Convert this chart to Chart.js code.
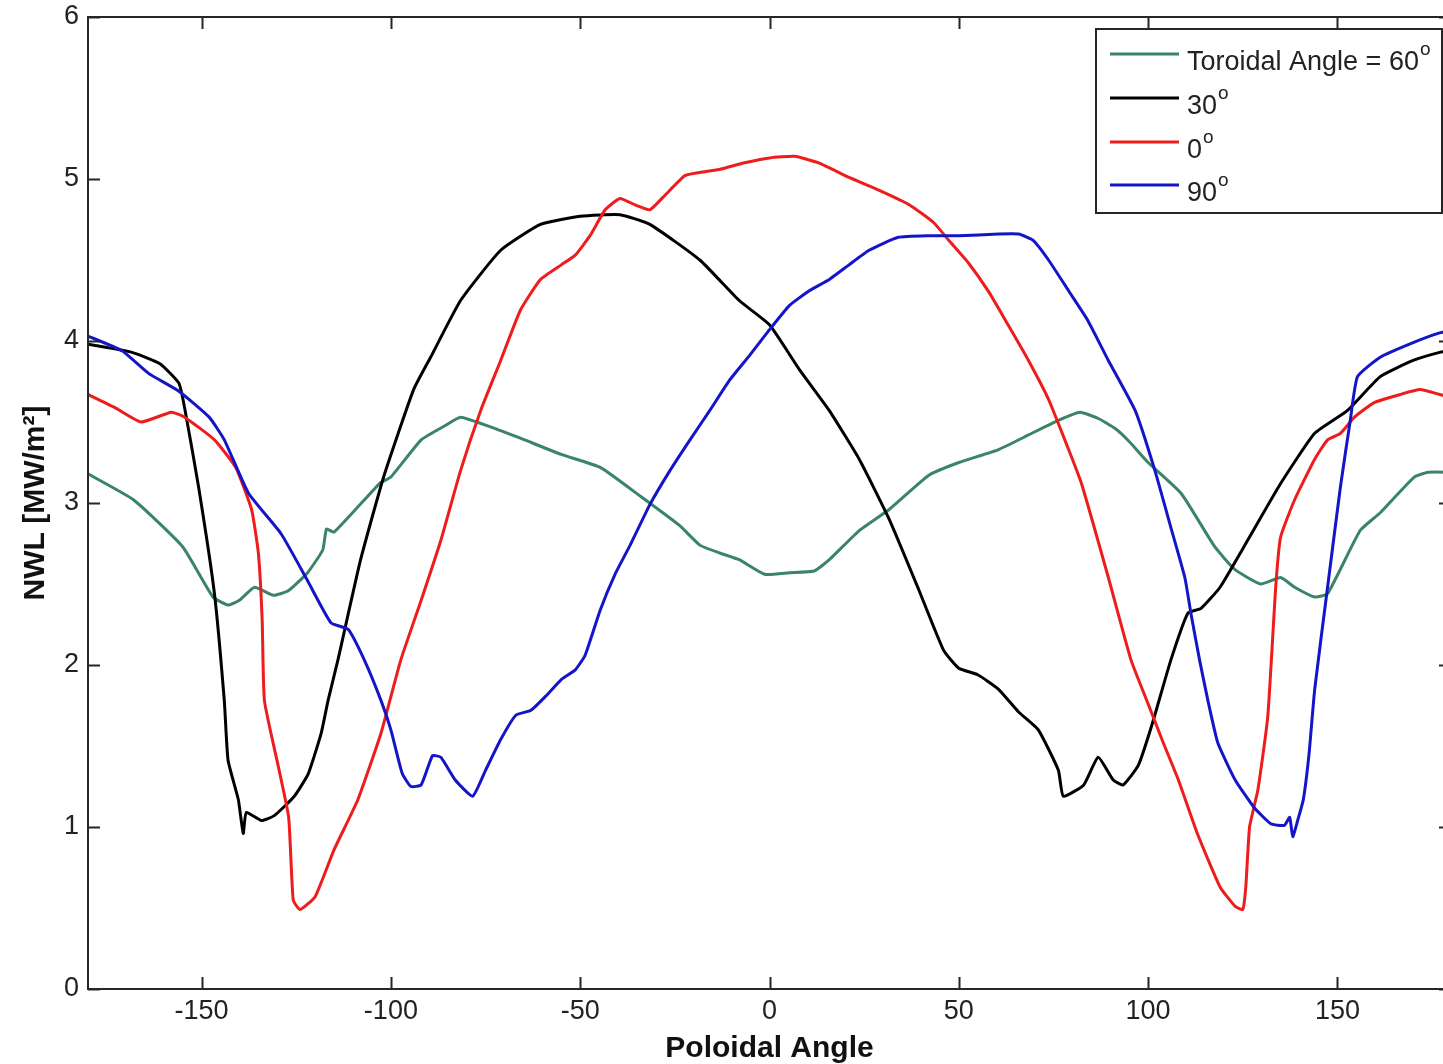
<!DOCTYPE html>
<html lang="en">
<head>
<meta charset="UTF-8">
<title>NWL vs Poloidal Angle</title>
<script src="https://cdn.jsdelivr.net/npm/chart.js@4.4.1/dist/chart.umd.min.js"></script>
<style>
   html, body { margin: 0; padding: 0; background: #fff; overflow: hidden; }
   #wrap { width: 1465px; height: 1064px; }
</style>
</head>
<body>
<div id="wrap"><canvas id="myChart" width="1465" height="1064"></canvas></div>
<script>
   // values
   const angle60 = [-180, -168, -155, -147, -143, -140, -136, -131, -127, -122, -118, -117, -115, -103, -100, -92, -85.5, -81.6, -73.7, -65.8, -55, -44.7, -34, -23.7, -18.4, -13, -8, -1.3, 5.3, 11.8, 15.8, 23.7, 31.6, 42, 50, 60.5, 68.4, 76.3, 82, 87, 91.3, 95, 100, 108.7, 117.6, 122.9, 129.7, 135, 138.7, 144, 147.4, 156, 161.3, 170.3, 174, 180];
   const nwl60 = [3.18, 3.02, 2.73, 2.42, 2.37, 2.40, 2.48, 2.43, 2.46, 2.57, 2.71, 2.84, 2.82, 3.12, 3.16, 3.39, 3.48, 3.53, 3.47, 3.40, 3.30, 3.22, 3.04, 2.86, 2.74, 2.69, 2.65, 2.56, 2.57, 2.58, 2.65, 2.83, 2.96, 3.17, 3.25, 3.33, 3.42, 3.51, 3.56, 3.52, 3.46, 3.38, 3.25, 3.06, 2.73, 2.59, 2.50, 2.54, 2.48, 2.42, 2.44, 2.83, 2.94, 3.16, 3.19, 3.19];

   const angle30 = [-180, -168.4, -161, -156, -154.5, -150.8, -146.6, -144, -143, -140.3, -139, -138.2, -134.2, -130.8, -125.5, -121.8, -118.4, -116.6, -114, -108, -101.8, -94, -89.5, -81.6, -71, -60.5, -50, -39.5, -31.6, -18.4, -8, 0, 8, 15.8, 23.7, 31.6, 39.5, 46, 50, 55, 60.5, 65.8, 71, 76.3, 77.6, 83, 86.8, 90.8, 93.4, 97.4, 101, 106, 110.5, 114, 119, 126.3, 135, 144, 152.6, 161.3, 170, 177, 180];
   const nwl30 = [3.98, 3.93, 3.86, 3.74, 3.59, 3.10, 2.44, 1.78, 1.41, 1.17, 0.96, 1.09, 1.04, 1.07, 1.19, 1.33, 1.58, 1.78, 2.03, 2.65, 3.17, 3.70, 3.90, 4.25, 4.56, 4.72, 4.77, 4.78, 4.72, 4.50, 4.25, 4.10, 3.82, 3.57, 3.27, 2.90, 2.46, 2.09, 1.98, 1.94, 1.85, 1.71, 1.60, 1.35, 1.19, 1.26, 1.43, 1.29, 1.26, 1.38, 1.63, 2.03, 2.32, 2.35, 2.48, 2.77, 3.12, 3.43, 3.57, 3.78, 3.88, 3.93, 3.94];

   const angle0 = [-180, -173, -166, -158, -154.5, -146.6, -141, -136.8, -135, -134, -133.4, -129.7, -127, -125.8, -124, -120, -115, -108.7, -102.6, -97.4, -92, -86.8, -81.6, -76.3, -71, -65.8, -60.5, -55, -51.3, -47.4, -43.4, -39.5, -35.5, -31.6, -27.6, -22.4, -18.4, -13, -6.6, 0, 6.6, 13, 21, 29, 37, 43.4, 47.4, 52.6, 58, 63, 68.4, 73.7, 79, 82.4, 89.5, 95.5, 100, 104, 108, 113, 119, 123, 125, 125.8, 126.8, 129, 131.6, 133.7, 135, 138.7, 144, 147.4, 150.8, 154.5, 159.7, 166.6, 171.8, 177, 180];
   const nwl0 = [3.67, 3.59, 3.50, 3.56, 3.53, 3.39, 3.22, 2.96, 2.69, 2.28, 1.78, 1.37, 1.06, 0.55, 0.49, 0.57, 0.86, 1.17, 1.58, 2.03, 2.40, 2.77, 3.20, 3.57, 3.88, 4.19, 4.38, 4.47, 4.53, 4.65, 4.81, 4.88, 4.84, 4.81, 4.90, 5.02, 5.04, 5.06, 5.10, 5.13, 5.14, 5.10, 5.01, 4.93, 4.84, 4.73, 4.62, 4.48, 4.30, 4.10, 3.88, 3.64, 3.33, 3.12, 2.54, 2.03, 1.76, 1.52, 1.29, 0.96, 0.63, 0.51, 0.49, 0.63, 1.00, 1.23, 1.68, 2.48, 2.79, 3.02, 3.27, 3.39, 3.43, 3.53, 3.62, 3.67, 3.70, 3.67, 3.65];

   const angle90 = [-180, -171, -164, -156, -148, -144, -137.6, -129, -122, -115.8, -111.3, -107, -102.6, -100, -97, -94.7, -92, -89, -86.8, -83, -78.4, -75, -71, -67, -63, -59, -55, -51.3, -48.7, -44.7, -40.8, -36.8, -31.6, -26.3, -21, -15.8, -10.5, -5.3, 0, 5.3, 10.5, 15.8, 21, 26.3, 34, 42, 50, 60.5, 65.8, 69.7, 73.7, 79, 84, 89.5, 96.6, 101.8, 106, 109.7, 111.3, 113.6, 115.8, 118.4, 123, 128, 132.4, 136, 137.4, 138.2, 139.5, 141, 142.5, 144, 147.4, 150.8, 153.4, 155.3, 161.3, 170, 177, 180];
   const nwl90 = [4.03, 3.94, 3.80, 3.69, 3.53, 3.39, 3.06, 2.81, 2.52, 2.26, 2.22, 2.03, 1.78, 1.60, 1.33, 1.25, 1.26, 1.44, 1.43, 1.29, 1.19, 1.35, 1.54, 1.69, 1.72, 1.81, 1.91, 1.97, 2.06, 2.34, 2.56, 2.74, 2.99, 3.20, 3.39, 3.57, 3.76, 3.91, 4.07, 4.22, 4.31, 4.38, 4.47, 4.56, 4.64, 4.65, 4.65, 4.66, 4.66, 4.62, 4.50, 4.31, 4.13, 3.88, 3.57, 3.20, 2.85, 2.54, 2.32, 2.03, 1.78, 1.52, 1.29, 1.12, 1.02, 1.01, 1.06, 0.94, 1.04, 1.17, 1.45, 1.85, 2.48, 3.10, 3.51, 3.78, 3.90, 3.99, 4.05, 4.06];

   const legendLabels = ['Toroidal Angle = 60', '30', '0', '90'];
   const seriesColors = ['#3b8468', '#000000', '#ee1c1c', '#1414c8'];
   const xTickValues = [-150, -100, -50, 0, 50, 100, 150];
   const yTickValues = [0, 1, 2, 3, 4, 5, 6];

   const angles = [angle60, angle30, angle0, angle90];
   const values = [nwl60, nwl30, nwl0, nwl90];

   const FONT = "'Liberation Sans', Arial, sans-serif";

   // matlab style box with inward ticks on all sides
   const boxPlugin = {
      id: 'box',
      afterDatasetsDraw(chart) {
         const { ctx, chartArea: a, scales } = chart;
         ctx.save();
         ctx.strokeStyle = '#262626';
         ctx.lineWidth = 2;
         ctx.strokeRect(a.left, a.top, a.right - a.left, a.bottom - a.top);
         ctx.beginPath();
         xTickValues.forEach(v => {
            const px = Math.round(scales.x.getPixelForValue(v)) + 0.5;
            ctx.moveTo(px, a.bottom); ctx.lineTo(px, a.bottom - 12);
            ctx.moveTo(px, a.top); ctx.lineTo(px, a.top + 12);
         });
         yTickValues.forEach(v => {
            const py = Math.round(scales.y.getPixelForValue(v)) + 0.5;
            ctx.moveTo(a.left, py); ctx.lineTo(a.left + 12, py);
            ctx.moveTo(a.right, py); ctx.lineTo(a.right - 12, py);
         });
         ctx.stroke();
         ctx.restore();
      }
   };

   // legend with superscript "o" for degrees
   const legendPlugin = {
      id: 'degLegend',
      afterDraw(chart) {
         const ctx = chart.ctx;
         const rowY = [54, 98, 142, 185];
         ctx.save();
         ctx.fillStyle = '#fff';
         ctx.fillRect(1096, 29, 346, 184);
         ctx.strokeStyle = '#262626';
         ctx.lineWidth = 2;
         ctx.strokeRect(1096, 29, 346, 184);
         legendLabels.forEach((lab, i) => {
            const y = rowY[i];
            ctx.strokeStyle = seriesColors[i];
            ctx.lineWidth = 3;
            ctx.beginPath();
            ctx.moveTo(1110, y); ctx.lineTo(1179, y);
            ctx.stroke();
            ctx.fillStyle = '#222';
            ctx.textBaseline = 'alphabetic';
            ctx.font = '27px ' + FONT;
            ctx.fillText(lab, 1187, y + 16);
            const w = ctx.measureText(lab).width;
            ctx.font = '19px ' + FONT;
            ctx.fillText('o', 1187 + w + 1, y + 1);
         });
         ctx.restore();
      }
   };

   const datasets = legendLabels.map((lab, i) => ({
      label: lab,
      data: angles[i].map((a, j) => ({ x: a, y: values[i][j] })),
      borderColor: seriesColors[i],
      backgroundColor: seriesColors[i],
      borderWidth: 3,
      pointRadius: 0,
      tension: 0.15,
      fill: false,
      order: legendLabels.length - i
   }));

   new Chart(document.getElementById('myChart').getContext('2d'), {
      type: 'line',
      data: { datasets: datasets },
      plugins: [boxPlugin, legendPlugin],
      options: {
         responsive: false,
         animation: false,
         devicePixelRatio: 1,
         layout: { padding: { top: 17, right: 14, left: 0, bottom: 0 } },
         plugins: { legend: { display: false }, tooltip: { enabled: false } },
         scales: {
            x: {
               type: 'linear',
               min: -180,
               max: 180,
               afterBuildTicks: s => { s.ticks = xTickValues.map(v => ({ value: v })); },
               afterFit: s => { s.height = 75; },
               grid: { display: false, drawTicks: false },
               border: { display: false },
               ticks: {
                  autoSkip: false,
                  maxRotation: 0,
                  padding: 6,
                  color: '#222',
                  font: { family: FONT, size: 27 }
               },
               title: {
                  display: true,
                  text: 'Poloidal Angle',
                  color: '#111',
                  padding: { top: 0, bottom: 0 },
                  font: { family: FONT, size: 30, weight: 'bold', lineHeight: 1.05 }
               }
            },
            y: {
               type: 'linear',
               min: 0,
               max: 6,
               afterBuildTicks: s => { s.ticks = yTickValues.map(v => ({ value: v })); },
               afterFit: s => { s.width = 88; s.paddingTop = 0; s.paddingBottom = 0; },
               grid: { display: false, drawTicks: false },
               border: { display: false },
               ticks: {
                  padding: 9,
                  color: '#222',
                  font: { family: FONT, size: 27, lineHeight: 1 }
               },
               title: {
                  display: true,
                  text: 'NWL [MW/m²]',
                  color: '#111',
                  padding: { top: 18, bottom: 0 },
                  font: { family: FONT, size: 30, weight: 'bold' }
               }
            }
         }
      }
   });
</script>
</body>
</html>
